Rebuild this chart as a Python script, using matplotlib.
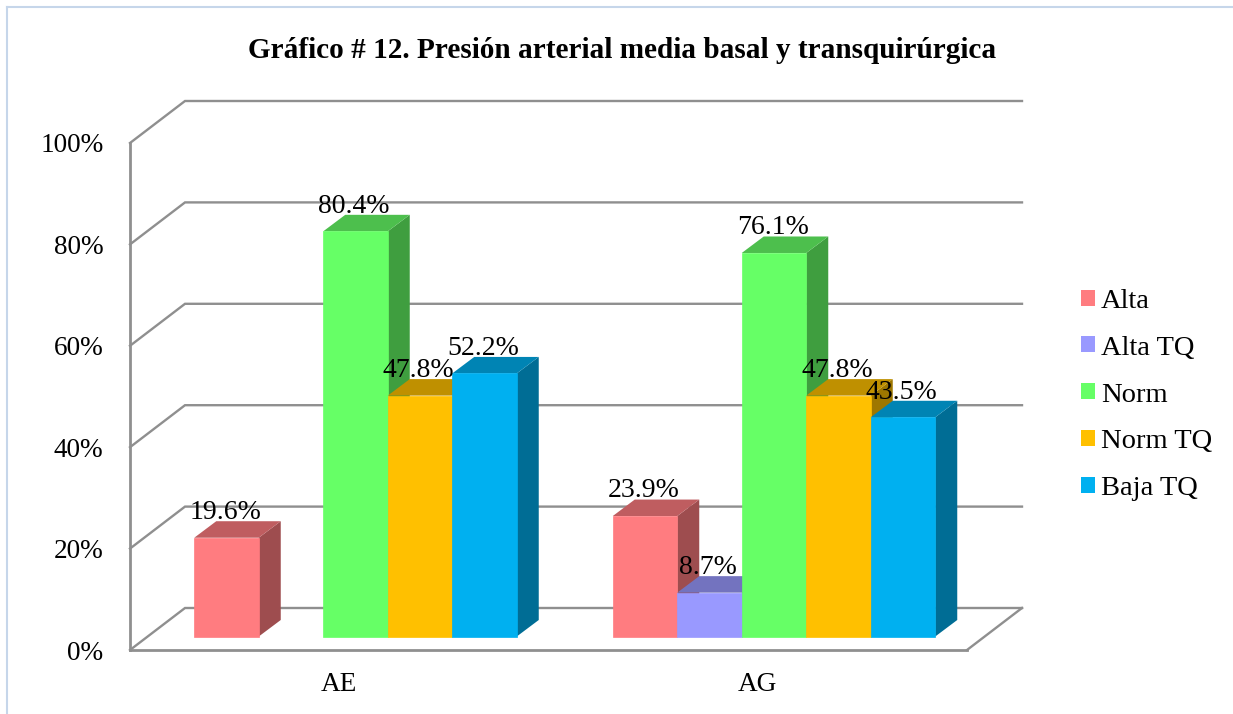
import numpy as np
import matplotlib
matplotlib.use('Agg')
import matplotlib.pyplot as plt
from matplotlib.lines import Line2D
from matplotlib.patches import Patch, Polygon
from matplotlib.ticker import PercentFormatter

plt.rcParams['font.family'] = ['Liberation Serif', 'DejaVu Serif']

# Values
categories = ['AE', 'AG']
series = ['Alta', 'Alta TQ', 'Norm', 'Norm TQ', 'Baja TQ']
alta = [19.6, 23.9]
alta_tq = [np.nan, 8.7]
norm = [80.4, 76.1]
norm_tq = [47.8, 47.8]
baja_tq = [52.2, 43.5]
colors = ['#FF7C80', '#9999FF', '#66FF66', '#FFC000', '#00B0F0']
y_ticks = [0, 20, 40, 60, 80, 100]

GRID = '#8F8F8F'
W, H = 1233, 714

fig = plt.figure(figsize=(W / 100, H / 100), dpi=100)
ax = fig.add_axes([130 / W, (H - 650) / H, 837 / W, 507 / H])
ax.patch.set_alpha(0)
ax.set_xlim(0, 2)
ax.set_ylim(0, 100)

# pixel sizes turned into data units
px_x = 2 / 837
px_y = 100 / 507
wall_dx, wall_dy = 55 * px_x, 42 * px_y
bar_dx, bar_dy = 22 * px_x, 16.5 * px_y
bar_w = 64.5 * px_x
bar_shift = 16.25 * px_x
bar_base = 13.5 * px_y
bar_scale = 0.994


def shade(color, factor):
    return tuple(c * factor for c in matplotlib.colors.to_rgb(color))


# back wall and floor
for v in y_ticks:
    ax.plot([0, wall_dx, 2 + wall_dx], [v, v + wall_dy, v + wall_dy],
            color=GRID, lw=1.7, clip_on=False, zorder=1, solid_joinstyle='miter')
ax.plot([2, 2 + wall_dx], [0, wall_dy], color=GRID, lw=1.7, clip_on=False, zorder=1)

# bars
all_values = [alta, alta_tq, norm, norm_tq, baja_tq]
for i, (values, color) in enumerate(zip(all_values, colors)):
    for j, val in enumerate(values):
        if np.isnan(val):
            continue
        x0 = j + 0.5 + bar_shift + (i - 2.5) * bar_w
        x1 = x0 + bar_w
        y0 = bar_base
        y1 = bar_base + val * bar_scale
        z = 3 + i * 0.1
        ax.add_patch(Polygon([(x1, y0), (x1 + bar_dx, y0 + bar_dy), (x1 + bar_dx, y1 + bar_dy), (x1, y1)],
                             facecolor=shade(color, 0.62), edgecolor='none', clip_on=False, zorder=z))
        ax.add_patch(Polygon([(x0, y1), (x1, y1), (x1 + bar_dx, y1 + bar_dy), (x0 + bar_dx, y1 + bar_dy)],
                             facecolor=shade(color, 0.75), edgecolor='none', clip_on=False, zorder=z))
        ax.bar(x0, y1 - y0, bottom=y0, width=bar_w, align='edge', color=color,
               edgecolor=color, linewidth=0.5, clip_on=False, zorder=z + 0.01)
        ax.annotate(f'{val:.1f}%', xy=((x0 + x1) / 2, y1), xytext=(-1, 13.5),
                    textcoords='offset points', ha='center', va='baseline',
                    fontsize=20, color='black', zorder=10, annotation_clip=False)

# axes
for side in ['top', 'right']:
    ax.spines[side].set_visible(False)
for side in ['left', 'bottom']:
    ax.spines[side].set_color(GRID)
    ax.spines[side].set_linewidth(2)
ax.set_yticks(y_ticks)
ax.yaxis.set_major_formatter(PercentFormatter(100, decimals=0))
ax.set_xticks([0.5, 1.5])
ax.set_xticklabels(categories)
ax.tick_params(axis='both', length=0, labelsize=19.6, colors='black')
ax.tick_params(axis='y', pad=19)
ax.tick_params(axis='x', pad=16)

fig.text(622 / W, 1 - 50 / H, 'Gráfico # 12. Presión arterial media basal y transquirúrgica',
         ha='center', va='center', fontsize=21.1, fontweight='bold')

# legend
handles = [Patch(facecolor=c, edgecolor='none', label=s) for c, s in zip(colors, series)]
ax.legend(handles=handles, loc='center left', bbox_to_anchor=(1081 / W, 1 - 395 / H),
          bbox_transform=fig.transFigure, frameon=False, fontsize=20.5,
          handlelength=0.49, handleheight=0.49, handletextpad=0.22,
          labelspacing=0.77, borderpad=0, borderaxespad=0)

# outer chart frame
frame = '#C6D6EA'
fig.add_artist(Line2D([7 / W, 7 / W], [0, 1 - 7 / H], color=frame, lw=1.5))
fig.add_artist(Line2D([7 / W, 1], [1 - 7 / H, 1 - 7 / H], color=frame, lw=1.5))

fig.savefig('out.png', dpi=100)
